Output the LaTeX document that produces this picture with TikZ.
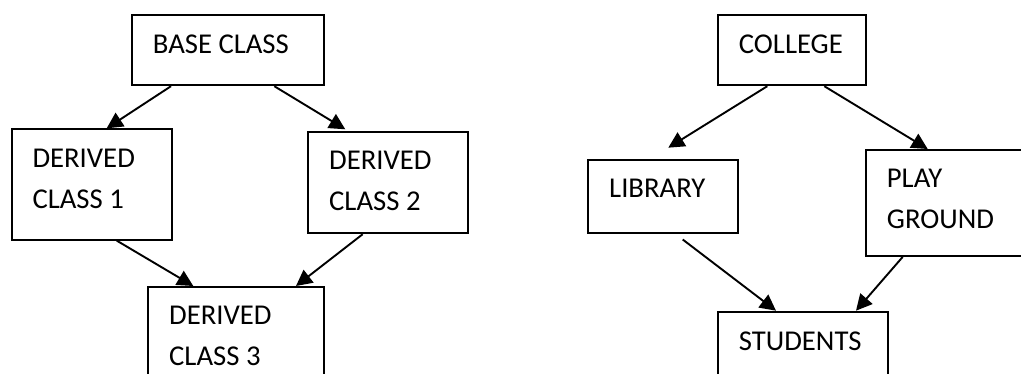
\documentclass[tikz,border=0pt]{standalone}
\usepackage{fontspec}
\setmainfont{Carlito}
\usetikzlibrary{arrows.meta}
\tikzset{
  box/.style={draw=black, line width=1.9pt, inner sep=0pt, anchor=north west, fill=none},
  lbl/.style={anchor=base west, inner sep=0pt, font=\fontsize{28.7pt}{41pt}\selectfont},
  arr/.style={line width=1.9pt, -{Triangle[length=16pt,width=16pt]}}
}
\newcommand{\twoline}[2]{\begin{tabular}[t]{@{}l@{}}#1\\#2\end{tabular}}
\begin{document}
\begin{tikzpicture}[x=1pt,y=-1pt]
\useasboundingbox (0,0) rectangle (1021,374);
\clip (0,0) rectangle (1021,374);
\fill[white] (0,0) rectangle (1021,374);
% left diagram
\node[box, minimum width=192.6pt, minimum height=70pt] (base) at (130.7,14.3) {};
\node[box, minimum width=160.3pt, minimum height=110.4pt] (dc1) at (11,128.3) {};
\node[box, minimum width=160.6pt, minimum height=101.6pt] (dc2) at (306.7,130.7) {};
\node[box, minimum width=176.3pt, minimum height=140pt] (dc3) at (147,286) {};
\node[lbl] (tbase) at (152.7,53.3) {BASE CLASS};
\node[lbl] (tdc1) at (32.3,167.7) {\twoline{DERIVED}{CLASS 1}};
\node[lbl] (tdc2) at (329,170) {\twoline{DERIVED}{CLASS 2}};
\node[lbl] (tdc3) at (169,325) {\twoline{DERIVED}{CLASS 3}};
\draw[arr] ([xshift=40.3pt]base.south west) -- ([xshift=95.7pt]dc1.north west);
\draw[arr] ([xshift=143.6pt]base.south west) -- ([xshift=38.6pt,yshift=1.4pt]dc2.north west);
\draw[arr] ([xshift=105.7pt]dc1.south west) -- ([xshift=46.3pt]dc3.north west);
\draw[arr] ([xshift=56pt]dc2.south west) -- ([xshift=149pt]dc3.north west);
% right diagram
\node[box, minimum width=148.3pt, minimum height=70pt] (college) at (716.7,14.3) {};
\node[box, minimum width=150.3pt, minimum height=73.6pt] (library) at (586.7,158.7) {};
\node[box, minimum width=200pt, minimum height=106pt] (play) at (865,149) {};
\node[box, minimum width=170.3pt, minimum height=120pt] (students) at (716.7,310.7) {};
\node[lbl] (tcollege) at (738.7,53.3) {COLLEGE};
\node[lbl] (tlibrary) at (609,197.7) {LIBRARY};
\node[lbl] (tplay) at (886.7,187.7) {\twoline{PLAY}{GROUND}};
\node[lbl] (tstudents) at (738.7,350) {STUDENTS};
\draw[arr] ([xshift=50.6pt]college.south west) -- ([xshift=81.6pt,yshift=11pt]library.north west);
\draw[arr] ([xshift=107.6pt]college.south west) -- ([xshift=62.7pt]play.north west);
\draw[arr] ([xshift=96pt,yshift=-5.3pt]library.south west) -- ([xshift=59.3pt]students.north west);
\draw[arr] ([xshift=37.7pt]play.south west) -- ([xshift=139.3pt]students.north west);
\end{tikzpicture}
\end{document}
